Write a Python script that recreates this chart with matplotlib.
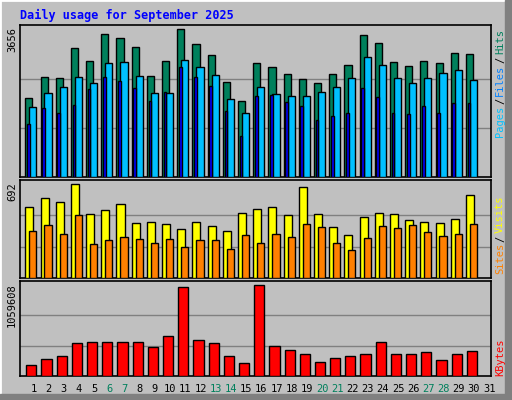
import matplotlib.pyplot as plt
from matplotlib.patches import Rectangle

days = list(range(1, 32))
weekend = [6, 7, 13, 14, 20, 21, 27, 28]

# daily values (day 31 has no data)
hits = [1965, 2487, 2462, 3208, 2885, 3532, 3432, 3233, 2512, 2885, 3656, 3283, 3034, 2363, 1890,
        2835, 2736, 2562, 2437, 2338, 2562, 2785, 3507, 3308, 2860, 2761, 2885, 2835, 3084, 3059]
files = [1741, 2089, 2238, 2487, 2338, 2835, 2860, 2512, 2089, 2089, 2910, 2736, 2537, 1940, 1592,
         2238, 2064, 2014, 2014, 2114, 2238, 2462, 2984, 2785, 2462, 2338, 2462, 2586, 2661, 2412]
pages = [1318, 1716, 1592, 1791, 2189, 2487, 2388, 2213, 1890, 2114, 2736, 2487, 2263, 1641, 1020,
         2014, 2039, 1865, 1766, 1418, 1517, 1592, 2213, 1990, 1592, 1567, 1766, 1592, 1840, 1840]
visits = [526, 594, 564, 692, 474, 504, 549, 406, 414, 399, 361, 414, 384, 346, 481,
          511, 526, 466, 669, 474, 376, 316, 451, 481, 474, 429, 414, 406, 436, 609]
sites = [346, 391, 323, 466, 248, 278, 301, 286, 256, 286, 226, 278, 278, 211, 316,
         256, 323, 301, 399, 376, 256, 203, 293, 384, 369, 391, 338, 308, 323, 399]
kbytes = [128000, 198000, 233000, 384000, 396000, 396000, 396000, 396000, 338000, 466000,
          1036000, 419000, 384000, 233000, 151000, 1059608, 349000, 303000, 256000, 163000,
          210000, 233000, 256000, 396000, 256000, 256000, 279000, 186000, 256000, 291000]

BG = '#C0C0C0'
fig = plt.figure(figsize=(5.12, 4.0), dpi=100, facecolor=BG)
mono = 'DejaVu Sans Mono'
W, H = 512, 400

# outer frame
fig.patches.append(Rectangle((0, 0), 1, 1, transform=fig.transFigure, fill=False,
                             edgecolor='white', lw=2))
fig.patches.append(Rectangle((505 / W, 0), 7 / W, 1, transform=fig.transFigure,
                             color='#808080'))
fig.patches.append(Rectangle((0, 0), 1, 6 / H, transform=fig.transFigure, color='#808080'))


def panel(top, bottom):
    ax = fig.add_axes([20 / W, 1 - bottom / H, 471 / W, (bottom - top) / H])
    ax.set_facecolor(BG)
    ax.set_xlim(0.25, 31.25)
    ax.set_xticks([])
    ax.set_yticks([])
    for s in ax.spines.values():
        s.set_color('black')
        s.set_linewidth(1.2)
    return ax


def bars(ax, vals, x0, x1, color):
    xs = [d + x0 for d in days[:len(vals)]]
    ax.bar(xs, vals, width=x1 - x0, align='edge', color=color, edgecolor='black', lw=1, zorder=3)


def grid(ax, mx, scale):
    for f in (1 / 3, 2 / 3):
        ax.axhline(mx * f, color='#808080', lw=1, zorder=1)
    ax.set_ylim(0, mx * scale)


ax1 = panel(25, 177)
grid(ax1, max(hits), 1.03)
bars(ax1, hits, -0.4, 0.07, '#00805C')
bars(ax1, files, -0.14, 0.33, '#00C0FF')
bars(ax1, pages, -0.29, -0.11, '#0000FF')

ax2 = panel(180, 278)
grid(ax2, max(visits), 1.045)
bars(ax2, visits, -0.4, 0.13, '#FFFF00')
bars(ax2, sites, -0.14, 0.33, '#FF8000')

ax3 = panel(281, 376)
grid(ax3, max(kbytes), 1.04)
bars(ax3, kbytes, -0.34, 0.33, '#FF0000')

# title
fig.text(20 / W, 1 - 15 / H, 'Daily usage for September 2025', color='#0000FF',
         family=mono, fontsize=8.5, fontweight='bold', va='center', ha='left')

# max labels on the left
for y, lab in ((27, max(hits)), (182, max(visits)), (283, max(kbytes))):
    fig.text(12 / W, 1 - y / H, str(lab), rotation=90, family=mono, fontsize=7.5,
             ha='center', va='top')

# legends on the right, read bottom to top
def legend(parts, y0):
    y = y0
    for txt, col in parts:
        fig.text(500 / W, 1 - y / H, txt, rotation=90, color=col, family=mono,
                 fontsize=7.5, ha='center', va='bottom')
        y -= len(txt) * 5.9 + 3


legend([('Pages', '#00C0FF'), ('/', 'black'), ('Files', '#0080FF'), ('/', 'black'),
        ('Hits', '#00805C')], 137)
legend([('Sites', '#FF8000'), ('/', 'black'), ('Visits', '#FFFF00')], 274)
legend([('KBytes', '#FF0000')], 376)

# day labels
for d in days:
    col = '#00805C' if d in weekend else 'black'
    x = ax3.transData.transform((d, 0))[0] / fig.bbox.width
    fig.text(x + 2 / W, 1 - 389 / H, str(d), color=col, family=mono, fontsize=7.5,
             ha='center', va='center')

fig.savefig('out.png', dpi=100, facecolor=BG)
